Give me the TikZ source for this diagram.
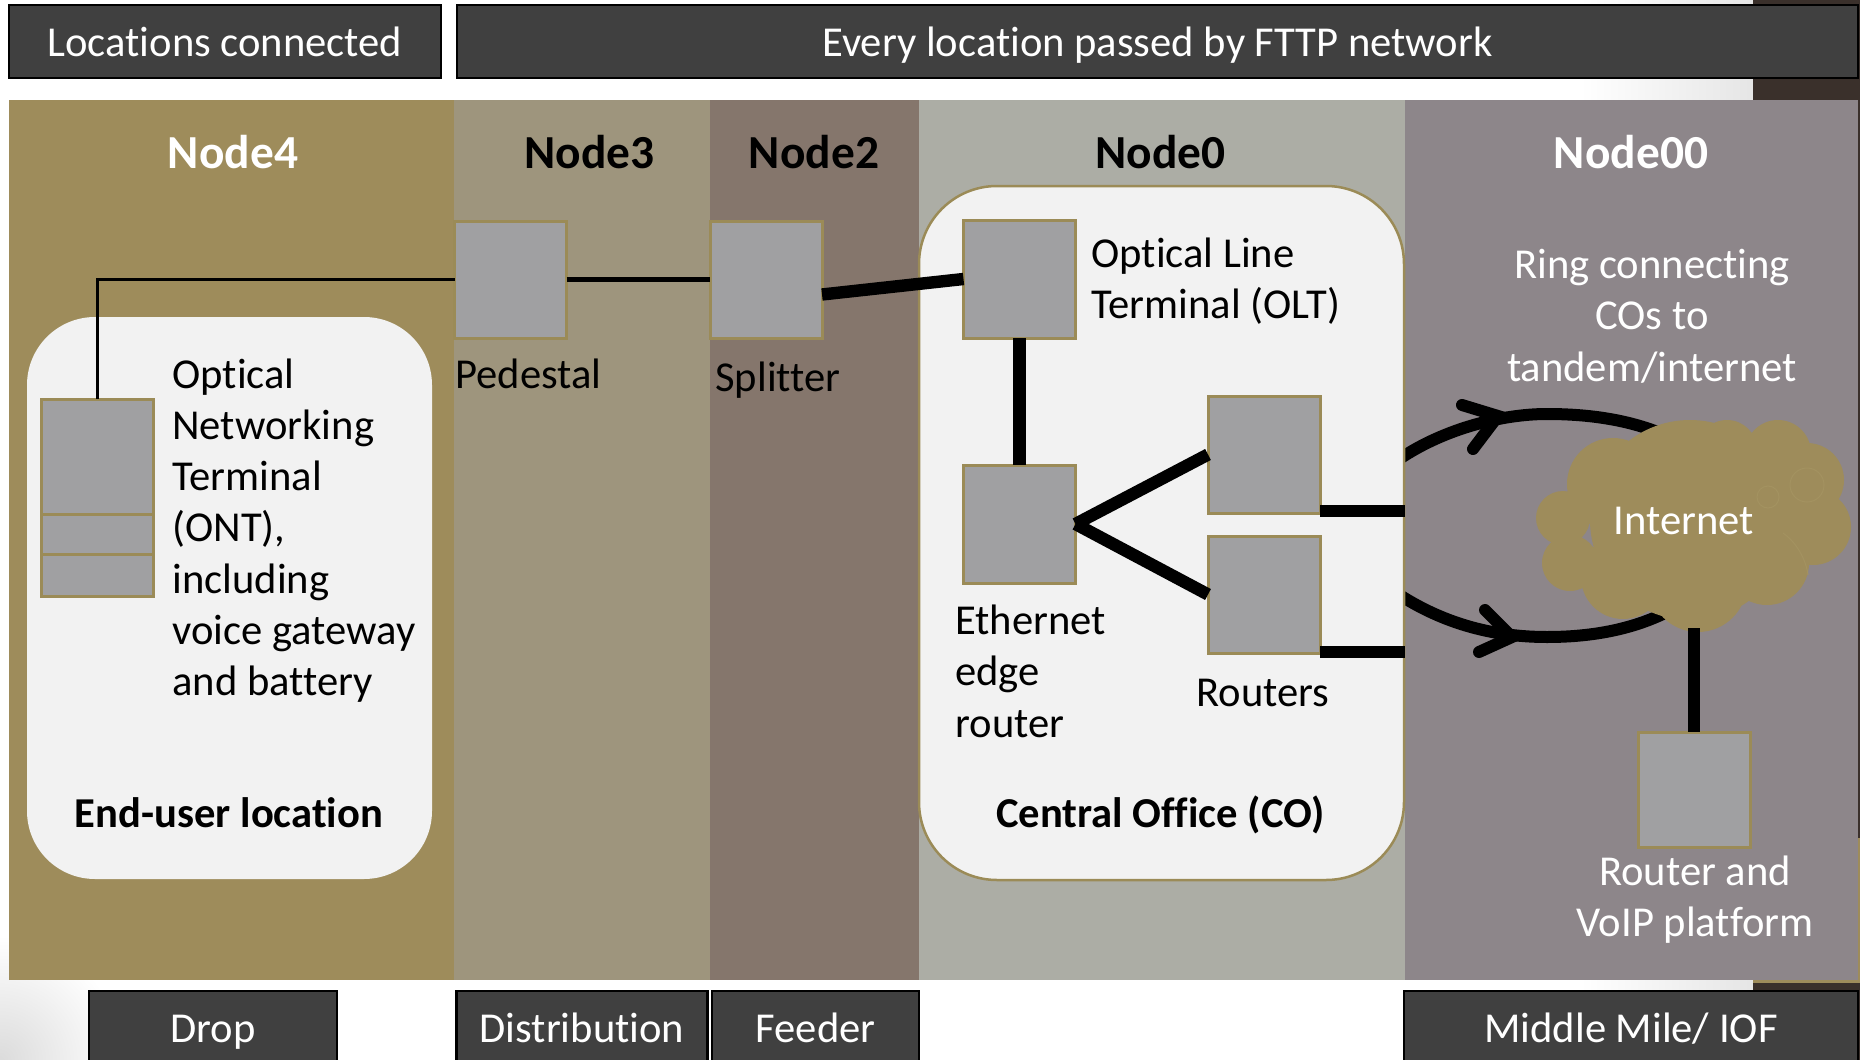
\documentclass[tikz,border=0pt]{standalone}
\usepackage{fontspec}
\setmainfont{Carlito}[Ligatures=NoCommon]
\definecolor{olive}{HTML}{9E8C5B}
\definecolor{oliveb}{HTML}{9B8B57}
\definecolor{pthree}{HTML}{9E957D}
\definecolor{ptwo}{HTML}{85766C}
\definecolor{pzero}{HTML}{ACADA5}
\definecolor{pzz}{HTML}{8D868A}
\definecolor{barc}{HTML}{404040}
\definecolor{roundc}{HTML}{F2F2F2}
\definecolor{boxc}{HTML}{A0A0A2}
\definecolor{darkc}{HTML}{3A302B}
\definecolor{faintc}{HTML}{A39260}
\tikzset{
  x=0.5pt,y=-0.5pt,
  bartop/.style={draw=black,line width=1.25pt,fill=barc,text=white,inner sep=0pt,outer sep=0pt,font=\fontsize{21.3}{25}\selectfont,text height=16pt,text depth=1.5pt},
  barbot/.style={draw=black,line width=1.25pt,fill=barc,text=white,inner sep=0pt,outer sep=0pt,font=\fontsize{21.3}{25}\selectfont,text height=14.5pt,text depth=2pt},
  kit/.style={draw=oliveb,line width=1.5pt,fill=boxc,inner sep=0pt,outer sep=0pt,minimum width=56pt},
  headtxt/.style={font=\fontsize{23.7}{28}\selectfont\bfseries,anchor=base,inner sep=0pt},
  bodytxt/.style={font=\fontsize{21.3}{25.6}\selectfont,anchor=base west,inner sep=0pt,align=left},
  midtxt/.style={font=\fontsize{21.3}{25.6}\selectfont,anchor=base,inner sep=0pt,align=center},
  boldtxt/.style={font=\fontsize{21.3}{25}\selectfont\bfseries,anchor=base,inner sep=0pt},
  wire/.style={line width=6.2pt,black},
  thinwire/.style={line width=1.5pt,black},
  midwire/.style={line width=2.5pt,black},
  ring/.style={line width=6pt,black},
  tipleg/.style={line width=6pt,black,line cap=round,line join=miter},
}
\begin{document}
\begin{tikzpicture}
\useasboundingbox (0,0) rectangle (1860,1060);
\clip (0,0) rectangle (1860,1060);
% page background
\fill[white] (0,0) rectangle (1860,1060);
\shade[left color=white,right color=white!90!black] (1580,0) rectangle (1753,100);
\shade[left color=white,right color=white!90!black] (1580,980) rectangle (1753,1060);
\shade[inner color=white!86!black,outer color=white] (0,1060) circle[radius=62pt];
\fill[darkc] (1753,0) rectangle (1860,100);
\fill[darkc] (1753,980) rectangle (1860,1060);
\fill[darkc] (1858,100) rectangle (1860,838);
% panels
\fill[olive] (9,100) rectangle (454,980);
\fill[pthree] (454,100) rectangle (710,980);
\fill[ptwo] (710,100) rectangle (919,980);
\fill[pzero] (919,100) rectangle (1405,980);
\fill[pzz] (1405,100) rectangle (1858,980);
\fill[olive] (1753,980) rectangle (1860,983);
\fill[olive] (1858,838) rectangle (1860,983);
% ring around the internet
\coordinate (ringTopA) at (1395,462);
\coordinate (ringTopB) at (1547,414);
\coordinate (ringTopC) at (1665,435);
\coordinate (ringBotA) at (1395,592);
\coordinate (ringBotB) at (1547,637);
\coordinate (ringBotC) at (1665,613);
\draw[ring] (ringTopA) .. controls (1440,430) and (1500,414) .. (ringTopB) .. controls (1590,414) and (1630,420) .. (ringTopC);
\draw[ring] (ringBotA) .. controls (1440,622) and (1490,637) .. (ringBotB) .. controls (1590,637) and (1630,630) .. (ringBotC);
\coordinate (tipTopA) at (1462,405);
\coordinate (tipTop) at (1498,416);
\coordinate (tipTopB) at (1473,449);
\coordinate (tipBotA) at (1485,610);
\coordinate (tipBot) at (1512,637);
\coordinate (tipBotB) at (1479,652);
\draw[tipleg] (tipTopA) -- (tipTop) -- (tipTopB);
\draw[tipleg] (tipBotA) -- (tipBot) -- (tipBotB);
% rounded areas
\fill[roundc,rounded corners=34pt] (27,317) rectangle (432,879);
\draw[oliveb,line width=1.25pt,fill=roundc,rounded corners=39pt] (919,186) rectangle (1404,880);
% bars
\node[bartop,minimum width=216pt,minimum height=36.5pt] (barloc) at (225,41.5) {Locations connected};
\node[bartop,minimum width=700.5pt,minimum height=36.5pt] (barpass) at (1157.5,41.5) {Every location passed by FTTP network};
\node[barbot,minimum width=124pt,minimum height=38.5pt] (bardrop) at (213,1029.5) {Drop};
\node[barbot,minimum width=125.5pt,minimum height=38.5pt] (bardist) at (582,1029.5) {Distribution};
\node[barbot,minimum width=103.5pt,minimum height=38.5pt] (barfeed) at (815.5,1029.5) {Feeder};
\node[barbot,minimum width=227pt,minimum height=38.5pt] (barmid) at (1631,1029.5) {Middle Mile/ IOF};
% connector end points at the panel edge
\coordinate (edgeA) at (1405,511);
\coordinate (edgeB) at (1405,652);
% equipment
\node[kit,minimum height=58.5pt] (pedestal) at (510.5,279.5) {};
\node[kit,minimum height=58.5pt] (splitter) at (766,279.5) {};
\node[kit,minimum height=59pt] (olt) at (1019.5,279) {};
\node[kit,minimum height=59pt] (eth) at (1019.5,524) {};
\node[kit,minimum height=58.5pt] (routerA) at (1264,454.5) {};
\node[kit,minimum height=58.5pt] (routerB) at (1264,594.5) {};
\node[kit,minimum height=57.5pt] (voip) at (1694,789.5) {};
\node[kit,minimum height=57.5pt] (ontA) at (97.5,456.5) {};
\node[kit,minimum height=20pt] (ontB) at (97.5,534) {};
\node[kit,minimum height=21pt] (ontC) at (97.5,575) {};
% connectors
\draw[thinwire] (pedestal.west) -| (ontA.north);
\draw[midwire] (pedestal.east) -- (splitter.west);
\draw[wire] ([yshift=-7.5pt]splitter.east) -- (olt.west);
\draw[wire] (olt.south) -- (eth.north);
\draw[wire] (eth.east) -- (routerA.west);
\draw[wire] (eth.east) -- (routerB.west);
\draw[wire] ([yshift=1pt]routerA.south east) -- (edgeA);
\draw[wire] ([yshift=0.5pt]routerB.south east) -- (edgeB);
% cloud
\fill[olive] (1563,518) circle[radius=13.5pt] (1570,563) circle[radius=14pt]
 (1613,484) circle[radius=23pt] (1673,457) circle[radius=16pt]
 (1727,450) circle[radius=15pt] (1778,453) circle[radius=16.5pt]
 (1807,480) circle[radius=18.5pt] (1813,527) circle[radius=19pt]
 (1767,563) circle[radius=21pt] (1698,583) circle[radius=24.5pt]
 (1623,577) circle[radius=21pt] (1690,520) circle[radius=50pt];
\draw[faintc,line width=0.5pt] (1807,485) circle[radius=8.5pt] (1768,497) circle[radius=5.5pt];
\draw[faintc,line width=0.5pt] (1783,533) .. controls (1800,545) and (1807,565) .. (1808,575);
\node[midtxt,text=white] (internet) at (1684,534) {Internet};
\draw[wire] (internet.base -| voip.north) ++(0,94) -- (voip.north);
% headings
\node[headtxt,text=white] (h4) at (233,168) {Node4};
\node[headtxt,text=black] (h3) at (589.5,168) {Node3};
\node[headtxt,text=black] (h2) at (814,168) {Node2};
\node[headtxt,text=black] (h0) at (1160.5,168) {Node0};
\node[headtxt,text=white] (h00) at (1631,168) {Node00};
% labels
\node[bodytxt] (ontlabel) at (172,695.5) {Optical\\Networking\\Terminal\\(ONT),\\including\\voice gateway\\and battery};
\node[boldtxt] (enduser) at (229,827) {End-user location};
\node[bodytxt] (pedlabel) at (455,388) {Pedestal};
\node[bodytxt] (spllabel) at (715,391) {Splitter};
\node[bodytxt] (oltlabel) at (1091,318.5) {Optical Line\\Terminal (OLT)};
\node[bodytxt] (ethlabel) at (955,737) {Ethernet\\edge\\router};
\node[bodytxt] (rtlabel) at (1196,706) {Routers};
\node[boldtxt] (colabel) at (1160.5,827) {Central Office (CO)};
\node[midtxt,text=white] (ringlabel) at (1652,381) {Ring connecting\\COs to\\tandem/internet};
\node[midtxt,text=white] (voiplabel) at (1695,936.5) {Router and\\VoIP platform};
\end{tikzpicture}
\end{document}
